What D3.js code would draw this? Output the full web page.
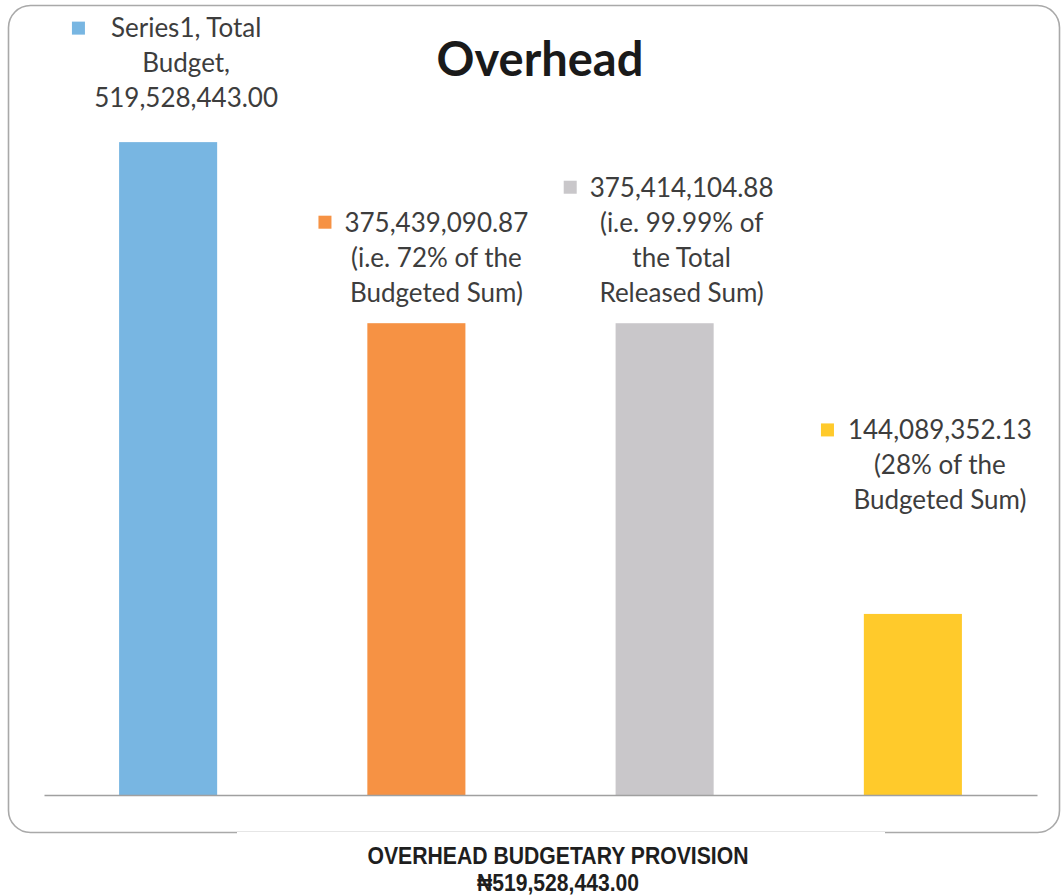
<!DOCTYPE html>
<html>
<head>
<meta charset="utf-8">
<script src="https://cdn.jsdelivr.net/npm/d3@7"></script>
<style>
  html, body { margin: 0; padding: 0; background: #ffffff; }
  svg { display: block; }
</style>
</head>
<body>
<svg id="chart" width="1062" height="895"></svg>
<script>
// ---- data ----
const categories = ["Total Budget", "Amount Released", "Amount Utilised", "Balance"];
const values = [519528443.00, 375439090.87, 375414104.88, 144089352.13];
const barColors = ["#78b6e2", "#f69244", "#c9c7ca", "#ffca2b"];
const labelLines = [
  ["Series1, Total", "Budget,", "519,528,443.00"],
  ["375,439,090.87", "(i.e. 72% of the", "Budgeted Sum)"],
  ["375,414,104.88", "(i.e. 99.99% of", "the Total", "Released Sum)"],
  ["144,089,352.13", "(28% of the", "Budgeted Sum)"]
];
const chartTitle = "Overhead";
const captionLines = ["OVERHEAD BUDGETARY PROVISION", "\u20A6519,528,443.00"];
const axisMax = 600000000;

// ---- layout (label placement relative to bar) ----
const labelLayout = [
  { dx: 18, lastGap: 44, keyGap: 26 },
  { dx: 20, lastGap: 31, keyGap: 13 },
  { dx: 17, lastGap: 31, keyGap: 13 },
  { dx: 27, lastGap: 114, keyGap: 14 }
];
const lineH = 35;
const captionWidths = [381, 162];

const svg = d3.select("#chart");

// frame
svg.append("rect")
  .attr("x", 8.5).attr("y", 5.5).attr("width", 1051).attr("height", 827)
  .attr("rx", 22).attr("ry", 22)
  .attr("fill", "#ffffff").attr("stroke", "#a9a9a9").attr("stroke-width", 1.6);
svg.append("line")
  .attr("x1", 237).attr("x2", 885).attr("y1", 832.5).attr("y2", 832.5)
  .attr("stroke", "#ffffff").attr("stroke-width", 3);
svg.append("line")
  .attr("x1", 237).attr("x2", 885).attr("y1", 831.5).attr("y2", 831.5)
  .attr("stroke", "#e6e6e6").attr("stroke-width", 1);

const x = d3.scaleBand().domain(categories).range([44, 1037])
  .paddingInner(0.605).paddingOuter(0.3025);
const y = d3.scaleLinear().domain([0, axisMax]).range([795, 41]);

// bars
svg.append("g").selectAll("rect").data(values).join("rect")
  .attr("x", (d, i) => x(categories[i]))
  .attr("y", d => y(d))
  .attr("width", x.bandwidth())
  .attr("height", d => y(0) - y(d))
  .attr("fill", (d, i) => barColors[i]);

// baseline axis
const xAxis = d3.axisBottom(x).tickSize(0).tickFormat("");
const ag = svg.append("g").attr("transform", `translate(0,${y(0)})`).call(xAxis);
ag.select(".domain").attr("stroke", "#a0a0a0").attr("stroke-width", 1.6);

// title
svg.append("text")
  .attr("x", 540).attr("y", 76)
  .attr("text-anchor", "middle")
  .attr("font-family", "Lato, 'Open Sans', sans-serif")
  .attr("font-weight", "bold")
  .attr("font-size", 47)
  .attr("fill", "#1a1a1a")
  .text(chartTitle);

// data labels
const lg = svg.append("g")
  .attr("font-family", "Lato, 'Open Sans', sans-serif")
  .attr("font-size", 26)
  .attr("fill", "#3d3d3d");

values.forEach((v, i) => {
  const lines = labelLines[i];
  const cx = x(categories[i]) + x.bandwidth() / 2 + labelLayout[i].dx;
  const lastY = y(v) - labelLayout[i].lastGap;
  const firstY = lastY - (lines.length - 1) * lineH;
  let firstText = null;
  lines.forEach((t, j) => {
    const te = lg.append("text")
      .attr("x", cx).attr("y", firstY + j * lineH)
      .attr("dy", "0.36em")
      .attr("text-anchor", "middle")
      .text(t);
    if (j === 0) firstText = te;
  });
  const w = firstText.node().getComputedTextLength();
  lg.append("rect")
    .attr("x", cx - w / 2 - labelLayout[i].keyGap - 13)
    .attr("y", firstY - 6.5)
    .attr("width", 13).attr("height", 13)
    .attr("fill", barColors[i]);
});

// caption below
const cg = svg.append("g")
  .attr("font-family", "'Liberation Sans Narrow', 'Arial Narrow', 'Liberation Sans', sans-serif")
  .attr("font-weight", "bold")
  .attr("font-size", 23)
  .attr("fill", "#1e1e1e")
  .attr("text-anchor", "middle");
captionLines.forEach((t, j) => {
  cg.append("text").attr("x", 558).attr("y", 864 + j * 27)
    .attr("textLength", captionWidths[j])
    .attr("lengthAdjust", "spacingAndGlyphs")
    .text(t);
});
</script>
</body>
</html>
